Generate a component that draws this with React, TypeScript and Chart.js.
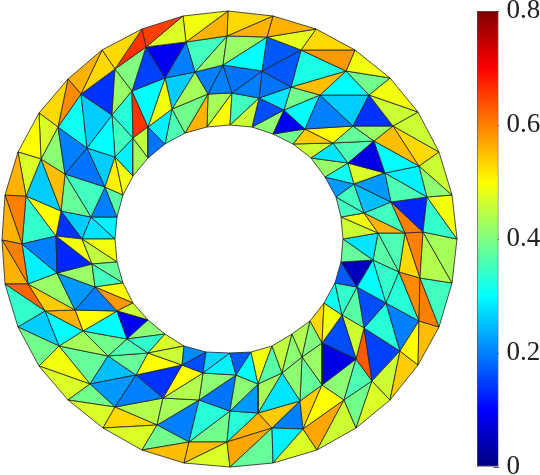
import React, { useEffect, useRef } from "react";
import { Chart, registerables } from "chart.js";

Chart.register(...registerables);

// Mesh nodes: outer rim, inner rim, interior nodes
const outerX = [2, 5, 18, 39, 68, 102, 142, 183, 228, 273, 316, 355, 390, 418, 439, 452, 457, 452, 439, 418, 390, 356, 317, 273, 230, 184, 142, 103, 68, 39, 18, 5];
const outerY = [240, 195, 152, 113, 79, 50, 29, 16, 11, 16, 29, 50, 78, 112, 152, 195, 239, 283, 327, 365, 400, 428, 450, 463, 467, 463, 450, 428, 400, 366, 327, 284];
const innerX = [115, 117, 123, 133, 148, 165, 185, 207, 230, 252, 273, 293, 311, 325, 336, 341, 343, 341, 335, 324, 310, 292, 272, 251, 230, 206, 184, 165, 148, 133, 123, 117];
const innerY = [239, 217, 195, 176, 158, 144, 133, 127, 125, 127, 134, 144, 158, 177, 197, 217, 239, 262, 283, 303, 321, 334, 346, 352, 353, 352, 346, 334, 320, 303, 283, 262];

const interiorNames = "A1 A2 A3 A4 A5 A6 A7 A8 A9 A10 A11 A12 A13 A14 A15 A16 A17 A18 A19 A20 A21 A22 A23 A24 A25 A26 P1 P2 P3 P4 P5 P6 P7 P8 P9 P10 P11 P12 P13 P14 P15 P16 P17 P19 P20 P21 P22 P23 P24 P25 P26 Q0 Q2 Q3 Q4 Q5 Q6 Q7 Q8 Q9 Q10 Q11 R S T U V W X Q31 Q32 Q34 Q35 Q12 Q14 Q15 Q16 Q17 Q18 Q19 Q20 Q21 Q22 Q23 Q25 Q26 Q27 Q29 Q30 Y Z AA AB AC AD AE".split(" ");
const interiorX = [146, 186, 115, 165, 195, 223, 227, 81, 132, 112, 58, 172, 208, 232, 148, 133, 87, 115, 41, 65, 105, 26, 61, 91, 56, 22, 267, 301, 346, 369, 393, 419, 427, 423, 420, 262, 291, 320, 353, 305, 374, 333, 385, 348, 391, 405, 354, 364, 378, 259, 284, 419, 373, 399, 386, 357, 342, 322, 302, 282, 258, 236, 400, 372, 344, 303, 272, 227, 258, 300, 322, 356, 364, 203, 182, 148, 127, 117, 95, 92, 82, 57, 75, 83, 108, 136, 163, 199, 230, 189, 157, 115, 90, 59, 45, 28];
const interiorY = [47, 42, 69, 78, 72, 65, 36, 94, 91, 115, 127, 109, 94, 93, 127, 138, 148, 157, 159, 174, 187, 196, 211, 217, 236, 244, 37, 50, 71, 95, 126, 166, 197, 232, 278, 71, 87, 95, 126, 129, 141, 143, 173, 163, 202, 233, 184, 213, 233, 98, 110, 321, 260, 272, 303, 287, 315, 343, 357, 373, 384, 375, 351, 381, 400, 429, 428, 442, 413, 401, 385, 359, 328, 373, 365, 353, 339, 311, 287, 264, 239, 273, 310, 331, 356, 375, 398, 400, 411, 442, 425, 407, 384, 346, 311, 284];

// Triangles (three node names each) and the value of each triangle
const outerBandCells = "O1 O2 A22,O2 A19 A22,O2 O3 A19,O3 A11 A19,O3 O4 A11,O4 A8 A11,O4 O5 A8,O5 A3 A8,O5 O6 A3,O6 A1 A3,O6 O7 A1,O7 A2 A1,O7 O8 A2,O8 A7 A2,O8 O9 A7,O9 P1 A7,O9 O10 P1,P1 O10 P2,O10 O11 P2,P2 O11 P3,O11 O12 P3,P3 O12 P4,O12 O13 P4,P4 O13 P5,O13 O14 P5,P5 O14 P6,O14 O15 P6,P6 O15 P7,P7 O15 O16,P7 O16 P8,P8 O16 O17,P8 O17 P9,P9 O17 O18,P9 O18 Q0,Q0 O18 O19,Q0 O19 R,R O19 O20,R O20 S,S O20 O21,S O21 T,T O21 O22,T O22 U,U O22 O23,U O23 V,V O23 O24,V O24 W,O24 W O25,O25 W Y,O25 Y O26,O26 Y Z,O26 Z O27,O27 Z AA,O27 AA O28,O28 AA AB,O28 AB O29,O29 AB AC,O29 AC O30,O30 AC AD,O30 AD O31,O31 AD AE,O31 AE O0,O0 A26 AE,O1 O0 A26,O1 A22 A26".split(",");
const outerBandValues = [.56, .47, .5, .47, .53, .59, .56, .53, .53, .66, .65, .47, .49, .56, .53, .56, .56, .48, .53, .58, .49, .39, .49, .46, .46, .53, .46, .41, .49, .34, .43, .44, .35, .6, .55, .5, .54, .46, .47, .39, .46, .57, .47, .29, .38, .57, .47, .55, .55, .39, .47, .53, .47, .39, .47, .49, .39, .26, .34, .62, .56, .6, .56, .6];

const upperRightCells = "A7 P1 A6,A6 P1 P10,P1 P2 P10,P10 P2 P11,P2 P3 P11,P11 P3 P12,P3 P4 P12,P4 P5 P13,P12 P4 P13,P12 P13 P14,P13 P5 P15,P14 P13 P16,P13 P15 P16,P5 P6 P15,P15 P6 P17,P17 P6 P7,P15 P17 P19,P16 P15 P19,P17 P7 P20,P7 P8 P20,P20 P8 P21,P17 P20 P22,P19 P17 P22,P22 P20 P23,P20 P21 P23,P23 P21 P24,A6 P10 A14,A14 P10 P25,P10 P11 P25,P25 P11 P26,P11 P12 P26,P26 P12 P14,P26 P14 I10,I10 P14 I11,P14 P16 I11,I11 P16 I12,I12 P16 P19,I12 P19 I13,I13 P19 P22,I13 P22 I14,I14 P22 P23,I14 P23 I15,I15 P23 P24,I15 P24 I16,A14 P25 I8,I8 P25 I9,P25 P26 I9,I9 P26 I10".split(",");
const upperRightValues = [.42, .3, .17, .17, .32, .55, .3, .14, .26, .2, .42, .5, .38, .55, .3, .29, .08, .36, .36, .13, .6, .22, .47, .25, .35, .56, .19, .2, .19, .28, .39, .3, .09, .39, .54, .46, .28, .42, .31, .22, .35, .35, .49, .46, .35, .46, .16, .41];

const lowerRightCells = "I16 P24 Q2,I16 Q2 I17,P24 P21 Q3,P24 Q3 Q2,P21 P8 P9,P21 P9 Q3,Q3 P9 Q0,Q3 Q0 Q4,Q2 Q3 Q4,Q2 Q4 Q5,I17 Q2 Q5,I17 Q5 I18,I18 Q5 Q6,I18 Q6 I19,I19 Q6 Q7,I19 Q7 I20,I20 Q7 Q8,I20 Q8 I21,I21 Q8 Q9,I21 Q9 I22,I22 Q9 Q10,I22 Q10 I23,I23 Q10 Q11,I24 I23 Q11,I24 Q11 Q12,I25 I24 Q12,Q11 Q10 Q30,Q30 Q10 X,Q10 Q9 X,Q9 Q31 X,Q9 Q8 Q31,Q8 Q32 Q31,Q8 Q7 Q32,Q7 Q34 Q32,Q7 Q6 Q34,Q6 Q35 Q34,Q6 Q5 Q35,Q5 Q4 Q35,Q4 Q0 R,Q4 R Q35,Q35 R S,Q35 S Q34,Q34 S T,Q34 T Q32,Q32 T U,Q31 Q32 U,Q31 U V,X Q31 V,Q30 X W,X V W".split(",");
const lowerRightValues = [.28, .38, .36, .37, .6, .53, .59, .33, .34, .3, .05, .17, .34, .31, .49, .53, .4, .44, .41, .45, .37, .49, .3, .17, .29, .27, .41, .22, .43, .28, .41, .38, .42, .08, .16, .46, .37, .16, .2, .33, .15, .63, .36, .41, .5, .54, .2, .54, .33, .56];

const lowerLeftCells = "I26 I25 Q14,I25 Q12 Q14,I26 Q14 Q15,I26 Q15 I27,I27 Q15 Q16,I27 Q16 I28,I28 Q16 Q17,I28 Q17 I29,I29 Q17 Q18,I29 Q18 I30,I30 Q18 Q19,I30 Q19 I31,I31 Q19 Q20,I31 Q20 I0,A25 Q20 Q19,A25 Q19 Q21,A26 A25 Q21,A26 Q21 AE,Q21 Q19 Q18,Q21 Q18 Q22,Q21 Q22 AE,Q18 Q17 Q22,AE Q22 AD,AD Q22 Q23,Q22 Q17 Q23,AD Q23 AC,Q23 Q17 Q16,Q23 Q16 Q25,AC Q23 Q25,Q25 Q16 Q15,Q25 Q15 Q26,Q15 Q14 Q26,Q26 Q14 Q27,Q14 Q12 Q27,Q27 Q12 Q29,Q12 Q11 Q29,Q29 Q11 Q30,Q29 Q30 Y,Q30 W Y,Q27 Q29 Z,Q29 Y Z,Q26 Q27 AA,Q27 Z AA,AB Q26 AA,AB Q25 Q26,AC Q25 AB".split(",");
const lowerLeftValues = [.21, .16, .46, .47, .34, .41, .09, .46, .58, .5, .35, .38, .45, .49, .49, .13, .2, .29, .42, .22, .42, .2, .54, .56, .5, .3, .3, .39, .43, .36, .38, .5, .14, .5, .44, .41, .19, .33, .39, .43, .2, .2, .44, .22, .25, .38];

const upperLeftCells = "A1 A2 A4,A2 A5 A4,A2 A7 A5,A7 A6 A5,A5 A6 A13,A6 A14 A13,A3 A1 A9,A1 A4 A9,A9 A4 A15,A4 A12 A15,A4 A5 A12,A5 A13 A12,A12 A13 I6,A13 I7 I6,A13 A14 I7,I7 A14 I8,A15 A12 I5,A12 I6 I5,A15 I5 I4,A15 I4 A16,A16 I4 I3,A9 A15 A16,A9 A16 A10,A3 A9 A10,A8 A3 A10,A8 A10 A17,A8 A17 A11,A10 A18 A17,A10 A16 A18,A16 I3 A18,A18 I3 I2,A18 I2 A21,A17 A18 A21,A17 A21 A20,A11 A17 A20,A11 A20 A19,A19 A20 A23,A19 A23 A22,A20 A21 A24,A20 A24 A23,A21 I2 I1,A21 I1 A24,A22 A23 A25,A22 A25 A26,A23 Q20 A25,A23 A24 Q20,A24 I1 I0,A24 I0 Q20".split(",");
const upperLeftValues = [.09, .2, .35, .42, .2, .2, .4, .15, .3, .49, .26, .43, .39, .56, .43, .5, .29, .36, .19, .45, .43, .66, .33, .42, .14, .26, .31, .3, .35, .29, .49, .51, .26, .19, .2, .41, .55, .26, .35, .38, .37, .2, .5, .34, .14, .26, .29, .28];

// Colour bar
const colorbarRange = [0, 0.8];
const colorbarTicks = [0, 0.2, 0.4, 0.6, 0.8];

const nodeTable: Record<string, { x: number; y: number }> = {};
outerX.forEach((x, i) => { nodeTable["O" + i] = { x, y: outerY[i] }; });
innerX.forEach((x, i) => { nodeTable["I" + i] = { x, y: innerY[i] }; });
interiorNames.forEach((n, i) => { nodeTable[n] = { x: interiorX[i], y: interiorY[i] }; });

const allCells = [...outerBandCells, ...upperRightCells, ...lowerRightCells, ...lowerLeftCells, ...upperLeftCells];
const allValues = [...outerBandValues, ...upperRightValues, ...lowerRightValues, ...lowerLeftValues, ...upperLeftValues];

function jet(t: number): string {
  const c = (v: number) => Math.round(255 * Math.max(0, Math.min(1, v)));
  const r = 1.5 - Math.abs(4 * t - 3);
  const g = 1.5 - Math.abs(4 * t - 2);
  const b = 1.5 - Math.abs(4 * t - 1);
  return `rgb(${c(r)},${c(g)},${c(b)})`;
}

export default function App() {
  const meshRef = useRef<HTMLCanvasElement>(null);
  const barRef = useRef<HTMLCanvasElement>(null);

  useEffect(() => {
    const mesh = new Chart(meshRef.current!, {
      type: "scatter",
      data: {
        datasets: allCells.map((cell, i) => {
          const pts = cell.split(" ").map((n) => nodeTable[n]);
          return {
            data: [...pts, pts[0]],
            showLine: true,
            fill: "shape",
            backgroundColor: jet(allValues[i] / colorbarRange[1]),
            borderColor: "#222",
            borderWidth: 0.8,
            pointRadius: 0,
            tension: 0,
          };
        }),
      },
      options: {
        animation: false,
        responsive: false,
        events: [],
        layout: { padding: 0 },
        plugins: { legend: { display: false }, tooltip: { enabled: false } },
        scales: {
          x: { type: "linear", display: false, min: 0, max: 470 },
          y: { type: "linear", display: false, min: 0, max: 475, reverse: true },
        },
      },
    } as any);

    const bar = new Chart(barRef.current!, {
      type: "bar",
      data: {
        labels: [""],
        datasets: [
          {
            data: [colorbarRange as any],
            barPercentage: 1,
            categoryPercentage: 1,
            borderColor: "#555",
            borderWidth: 1,
            borderSkipped: false,
            backgroundColor: (ctx: any) => {
              const area = ctx.chart.chartArea;
              if (!area) return "#000";
              const g = ctx.chart.ctx.createLinearGradient(0, area.bottom, 0, area.top);
              for (let i = 0; i <= 32; i++) g.addColorStop(i / 32, jet(i / 32));
              return g;
            },
          },
        ],
      },
      options: {
        animation: false,
        responsive: false,
        events: [],
        layout: { padding: { top: 11, bottom: 8, left: 7, right: 0 } },
        plugins: { legend: { display: false }, tooltip: { enabled: false } },
        scales: {
          x: { display: false },
          y: {
            position: "right",
            min: colorbarRange[0],
            max: colorbarRange[1],
            afterBuildTicks: (scale: any) => {
              scale.ticks = colorbarTicks.map((value) => ({ value }));
            },
            afterFit: (scale: any) => {
              scale.width = 41.5;
              scale.paddingTop = 0;
              scale.paddingBottom = 0;
            },
            border: { display: false },
            grid: { drawOnChartArea: false, tickLength: -5, tickColor: "#555", tickWidth: 1 },
            ticks: {
              padding: 13,
              color: "#222",
              autoSkip: false,
              maxRotation: 0,
              font: { family: "'Liberation Serif'", size: 27 },
              callback: (v: any) => String(v),
            },
          },
        },
      },
    } as any);

    return () => {
      mesh.destroy();
      bar.destroy();
    };
  }, []);

  return (
    <div style={{ position: "fixed", left: 0, top: 0, width: 540, height: 475, background: "#fff", overflow: "hidden" }}>
      <canvas ref={meshRef} width={470} height={475} style={{ position: "absolute", left: 0, top: 0 }} />
      <canvas ref={barRef} width={70} height={475} style={{ position: "absolute", left: 470, top: 0 }} />
    </div>
  );
}
